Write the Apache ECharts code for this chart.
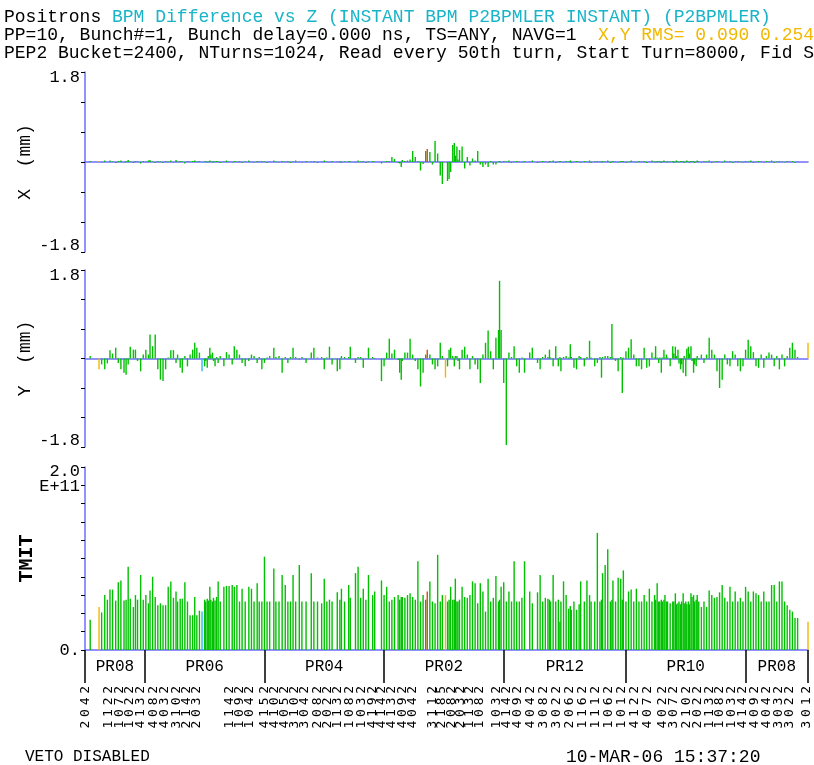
<!DOCTYPE html>
<html><head><meta charset="utf-8">
<script src="https://cdn.jsdelivr.net/npm/echarts@6/dist/echarts.min.js"></script>
<style>html,body{margin:0;padding:0;background:#fff}#c{width:814px;height:765px}</style>
</head><body><div id="c"></div>
<script>
// ---------------- data ----------------
const ringLength = 1390;
const regionNames = ['PR08','PR06','PR04','PR02','PR12','PR10','PR08'];
const regionBounds = [0,115,345,575,805,1040,1270,1390];

const tickNames = ['2042','2012','1122','1072','1022','4132',
  '4082','4032','3102','2142','2032','1142','1092','1042',
  '4152','4102','4052','3102','3042','2082','2022','1132','1082','1032','4192','4142',
  '4132','4092','4042','3112','2185','2082','2032','1132','1082','1032',
  '4142','4092','4042','3082','3022','2062','1162','1112','1062','1012',
  '4122','4072','4022','3072','2102','2022','1132','1082','1032',
  '4142','4092','4042','3032','3022','3012'];
const tickZ = [2,24,45,66,85,106,
  131,153,176,195,214,278,297,316,
  345,364,384,403,422,447,466,486,509,532,553,570,
  590,611,630,669,686,705,722,740,759,792,
  811,832,857,882,907,932,957,982,1007,1032,
  1057,1082,1111,1132,1156,1177,1200,1221,1244,
  1265,1288,1310,1333,1354,1388];

const bpmZ = [10,27,32,38,43,48,53,59,64,69,75,79,83,87,93,97,101,107,112,117,122,125,130,135,140,145,150,155,160,165,170,175,178,183,187,192,197,202,207,211,215,220,
225,230,232,235,237,240,242,245,247,250,253,256,260,267,272,277,283,287,292,297,302,308,315,320,325,331,335,340,
345,350,355,363,367,373,379,385,390,395,400,405,412,417,425,435,440,447,455,460,465,470,475,485,490,493,499,507,510,520,525,530,535,540,545,553,557,
570,575,580,585,590,595,602,605,608,610,615,620,625,630,635,640,645,650,655,658,663,668,673,678,683,687,693,697,700,703,707,710,712,715,717,720,725,730,735,740,745,750,755,760,765,770,775,780,785,790,795,797,800,
805,810,815,820,825,830,835,840,845,855,860,870,875,880,885,890,893,895,900,905,910,913,915,920,925,930,933,935,940,945,950,953,960,965,970,973,980,985,990,993,995,1000,1005,1010,1013,1015,1020,1025,1030,1033,1035,
1040,1045,1050,1055,1060,1065,1070,1075,1080,1085,1090,1095,1097,1100,1103,1105,1108,1110,1113,1115,1118,1120,1125,
1130,1132,1135,1137,1140,1142,1145,1147,1150,1152,1155,1157,1160,1162,1165,1167,1170,1172,1175,1177,1180,
1185,1190,1195,1200,1205,1210,1215,1220,1225,1230,1235,1240,1245,1250,1255,1260,1265,
1270,1275,1280,1285,1290,1295,1300,1305,1310,1315,1320,1325,1330,1335,1340,1345,1350,1355,1360,1365,1370,1390];

const xDiff = [0.02,0.02,-0.01,0.03,0.00,0.03,0.01,-0.02,0.02,0.03,-0.01,0.02,0.04,0.01,-0.02,0.02,0.01,-0.03,0.02,0.01,0.03,0.04,0.01,-0.02,0.02,0.01,-0.02,0.02,0.01,0.03,-0.01,0.04,0.01,0.02,0.01,-0.03,0.02,0.01,0.02,0.03,0.01,0.02,
-0.02,0.01,0.02,-0.01,0.01,0.03,0.01,-0.01,0.02,0.01,0.02,0.01,-0.02,0.01,0.03,0.01,-0.01,0.02,0.01,0.02,-0.02,0.01,0.03,0.01,-0.01,0.02,0.01,0.02,
0.01,-0.02,0.01,0.03,0.01,-0.01,0.02,0.01,0.02,-0.02,0.01,0.03,0.01,-0.01,0.02,0.01,0.02,-0.02,0.01,0.03,0.01,-0.01,0.02,0.01,0.02,-0.02,0.01,0.02,0.01,-0.01,0.03,0.01,0.02,-0.02,0.01,0.02,0.01,
-0.03,0.01,0.02,0.02,0.10,0.06,-0.02,-0.03,-0.10,0.04,0.02,0.03,0.05,0.22,0.10,0.02,-0.17,-0.04,0.22,0.26,0.20,-0.05,0.42,0.17,-0.27,-0.44,0.02,-0.38,-0.34,-0.20,0.34,0.38,0.13,0.31,0.05,0.24,0.31,-0.13,0.10,-0.07,0.07,0.03,0.22,-0.05,-0.10,-0.05,-0.10,0.02,-0.05,-0.05,0.01,0.02,-0.01,
0.02,0.01,0.03,-0.02,0.01,0.02,0.01,-0.01,0.02,0.01,0.03,-0.02,0.01,0.02,0.01,-0.01,0.02,0.01,0.03,-0.02,0.01,0.02,0.01,-0.01,0.02,0.01,0.03,-0.02,0.01,0.02,0.01,-0.01,0.02,0.01,0.03,-0.02,0.01,0.02,0.01,-0.01,0.02,0.01,0.03,-0.02,0.01,0.02,0.01,-0.01,0.02,0.01,0.02,
-0.02,0.01,0.03,0.01,-0.01,0.02,0.01,0.02,-0.02,0.01,0.03,0.01,-0.01,0.02,0.01,0.02,-0.02,0.01,0.03,0.01,-0.01,0.02,0.01,
0.02,-0.02,0.01,0.03,0.01,-0.01,0.02,0.01,0.02,-0.02,0.01,0.03,0.01,-0.01,0.02,0.01,0.02,-0.02,0.01,0.03,0.01,
-0.01,0.02,0.01,0.03,-0.02,0.01,0.02,0.01,-0.01,0.03,0.01,0.02,-0.02,0.01,0.02,0.01,-0.01,
0.02,0.01,0.03,-0.02,0.01,0.02,0.01,-0.01,0.02,0.01,0.03,-0.02,0.01,0.02,0.01,-0.01,0.02,0.01,0.02,-0.02,0.01,0.01];

const yDiff = [0.05,-0.22,-0.12,-0.22,-0.10,0.17,0.10,0.22,-0.09,-0.22,-0.29,-0.33,-0.12,0.24,0.18,0.18,-0.05,-0.26,0.08,0.18,0.08,0.49,0.25,0.49,-0.22,-0.43,-0.46,-0.22,0.02,0.17,0.17,-0.09,0.08,-0.19,-0.29,0.05,-0.16,0.08,0.18,0.32,0.22,0.12,
-0.26,-0.16,-0.05,-0.19,0.05,0.22,0.08,0.12,-0.05,-0.16,0.03,-0.09,0.05,-0.16,0.13,0.08,-0.12,0.25,0.18,0.08,-0.09,-0.16,-0.05,0.08,0.05,-0.09,0.03,-0.22,
-0.09,0.02,0.05,0.22,0.03,0.05,-0.29,0.03,-0.09,0.03,0.22,0.03,-0.02,0.03,-0.09,0.12,0.22,0.02,0.03,-0.22,0.02,0.24,-0.12,-0.26,-0.22,0.05,0.03,0.03,0.24,-0.09,0.03,0.03,-0.19,0.01,0.22,0.03,0.01,
-0.46,-0.16,0.12,0.40,0.10,0.18,-0.03,-0.29,-0.43,-0.05,0.12,0.12,0.40,0.08,-0.05,-0.22,-0.57,-0.29,0.08,0.18,0.08,-0.12,-0.22,-0.16,0.32,0.05,-0.39,-0.16,0.18,0.22,0.05,-0.16,0.05,0.05,-0.05,-0.22,0.18,0.24,0.08,-0.22,0.05,-0.12,-0.22,-0.50,0.08,0.32,0.57,0.15,-0.22,0.42,0.58,1.58,0.58,
-0.50,-1.76,0.12,0.03,0.25,-0.16,-0.29,0.02,-0.29,0.12,0.22,-0.09,-0.22,0.03,0.08,0.03,0.18,0.02,-0.16,0.25,-0.16,0.03,-0.26,0.03,0.05,0.02,0.29,0.03,-0.19,-0.22,0.05,0.03,-0.16,0.03,0.36,0.02,-0.16,-0.09,0.03,-0.39,0.03,0.05,0.05,0.03,0.70,0.02,-0.05,-0.26,0.03,-0.70,0.02,
0.15,0.22,0.39,0.08,-0.16,-0.16,-0.22,0.22,-0.19,-0.16,0.12,0.02,0.25,0.02,-0.09,0.02,-0.29,0.02,0.18,0.02,0.08,0.02,-0.16,
0.25,0.10,0.24,0.05,0.18,-0.10,-0.22,-0.12,-0.29,0.05,-0.36,0.20,0.24,0.10,0.25,-0.05,-0.29,-0.12,-0.16,0.05,-0.02,
0.08,-0.09,0.08,0.42,0.18,0.08,-0.26,-0.60,-0.43,0.08,-0.12,-0.16,0.15,0.08,-0.16,-0.26,-0.16,
0.18,0.38,0.25,0.13,-0.16,-0.19,0.08,-0.19,0.05,0.12,0.08,-0.16,0.05,-0.22,0.08,-0.16,0.05,0.22,0.32,0.18,0.03,0.32];

const tmit = [0.33,0.47,0.41,0.60,0.55,0.66,0.66,0.54,0.74,0.76,0.54,0.55,0.91,0.56,0.47,0.60,0.55,0.82,0.55,0.60,0.51,0.65,0.80,0.58,0.49,0.51,0.49,0.49,0.69,0.75,0.57,0.64,0.53,0.56,0.56,0.74,0.53,0.38,0.38,0.58,0.38,0.43,
0.42,0.55,0.53,0.56,0.54,0.69,0.55,0.53,0.57,0.54,0.58,0.75,0.53,0.69,0.70,0.70,0.71,0.69,0.71,0.53,0.67,0.53,0.69,0.67,0.53,0.73,0.53,0.53,
1.02,0.53,0.53,0.89,0.53,0.53,0.82,0.71,0.53,0.53,0.82,0.53,0.93,0.53,0.53,0.84,0.53,0.53,0.51,0.78,0.53,0.55,0.53,0.63,0.55,0.67,0.53,0.71,0.57,0.84,0.91,0.57,0.67,0.55,0.82,0.60,0.64,
0.76,0.60,0.69,0.53,0.55,0.58,0.60,0.55,0.58,0.58,0.57,0.60,0.62,0.58,0.55,0.97,0.53,0.60,0.55,0.64,0.75,0.53,0.51,1.04,0.53,0.60,0.60,0.53,0.55,0.69,0.55,0.55,0.78,0.53,0.53,0.55,0.69,0.58,0.57,0.60,0.75,0.73,0.51,0.73,0.64,0.42,0.78,0.53,0.57,0.81,0.53,0.55,0.69,
0.74,0.53,0.64,0.53,0.97,0.53,0.53,0.57,0.97,0.64,0.51,0.63,0.82,0.53,0.57,0.56,0.55,0.53,0.82,0.53,0.55,0.31,0.53,0.75,0.60,0.45,0.48,0.44,0.53,0.44,0.50,0.75,0.53,0.76,0.60,0.53,0.53,1.28,0.53,0.55,0.84,0.93,1.10,0.53,0.55,0.76,0.53,0.79,0.78,0.55,0.87,
0.53,0.64,0.66,0.53,0.67,0.53,0.53,0.60,0.53,0.67,0.53,0.60,0.55,0.73,0.53,0.53,0.55,0.53,0.55,0.60,0.53,0.53,0.51,
0.53,0.53,0.62,0.50,0.51,0.53,0.50,0.53,0.62,0.51,0.53,0.50,0.53,0.50,0.62,0.58,0.60,0.53,0.55,0.60,0.53,
0.47,0.53,0.47,0.65,0.60,0.57,0.58,0.63,0.71,0.57,0.53,0.69,0.53,0.64,0.53,0.57,0.53,
0.69,0.64,0.53,0.64,0.62,0.60,0.53,0.64,0.53,0.53,0.71,0.71,0.53,0.75,0.75,0.53,0.49,0.44,0.42,0.35,0.35,0.31];

// flagged BPMs (by Z) and their status
const flaggedZ = [27, 225, 658, 693, 1390];
const flaggedKind = ['warn', 'info', 'bad', 'warn', 'warn'];

// ---------------- styling ----------------
const GREEN = '#00c000';
const KIND_COLOR = {warn: '#f2b800', info: '#30b8f0', bad: '#e04818'};
const AXIS_BLUE = '#6e6eff';
const MONO = "'Liberation Mono', 'DejaVu Sans Mono', monospace";
const MONO2 = "'DejaVu Sans Mono', 'Liberation Mono', monospace";

function barData(vals) {
  return bpmZ.map((z, i) => {
    const k = flaggedZ.indexOf(z);
    return {value: [z, vals[i]], itemStyle: {color: k >= 0 ? KIND_COLOR[flaggedKind[k]] : GREEN}};
  });
}
const regionCenters = regionNames.map((n, i) => (regionBounds[i] + regionBounds[i + 1]) / 2);

const chart = echarts.init(document.getElementById('c'), null, {renderer: 'canvas'});

const lbl = {fontFamily: MONO, fontSize: 17, color: '#000', lineHeight: 18};
function mmYAxis(grid, name) {
  return {
    gridIndex: grid, type: 'value', min: -1.8, max: 1.8, interval: 0.6,
    axisLine: {show: true, lineStyle: {color: AXIS_BLUE, width: 1.5}},
    axisTick: {show: true, length: 4, lineStyle: {color: '#000'}},
    splitLine: {show: false},
    axisLabel: {
      margin: 5, color: '#000', fontFamily: MONO, fontSize: 17,
      rich: {
        a: lbl,
        s: {fontFamily: MONO, fontSize: 10, lineHeight: 10, color: '#000'},
        s2: {fontFamily: MONO, fontSize: 12, lineHeight: 13, color: '#000'}
      },
      formatter: v => (Math.abs(v - 1.8) < 1e-6 ? '{s| }\n{a|1.8}' : (Math.abs(v + 1.8) < 1e-6 ? '{a|-1.8}\n{s2| }' : ''))
    },
    name: name, nameLocation: 'middle', nameRotate: 90, nameGap: 51, nameMoveOverlap: false,
    nameTextStyle: {color: '#000', fontFamily: MONO, fontSize: 18}
  };
}
function zAxis(grid) {
  return {
    gridIndex: grid, type: 'value', min: 0, max: ringLength,
    axisLine: {show: true, onZero: true, lineStyle: {color: AXIS_BLUE, width: 1.5}},
    axisTick: {show: false}, axisLabel: {show: false}, splitLine: {show: false}
  };
}
const plain = {fontFamily: MONO, fontSize: 18, fontWeight: 'normal', color: '#000'};
const digit = {fontFamily: MONO2, fontSize: 13, color: '#000', width: 11.6, align: 'center'};

const option = {
  animation: false,
  backgroundColor: '#fff',
  title: [
    {left: 4, top: 8, padding: 0, text: '{k|Positrons }{c|BPM Difference vs Z (INSTANT BPM P2BPMLER INSTANT) (P2BPMLER)}',
      textStyle: {fontWeight: 'normal', rich: {k: Object.assign({}, plain), c: Object.assign({}, plain, {color: '#1ab4c8'})}}},
    {left: 4, top: 26, padding: 0, text: '{k|PP=10, Bunch#=1, Bunch delay=0.000 ns, TS=ANY, NAVG=1  }{o|X,Y RMS= 0.090 0.254}',
      textStyle: {fontWeight: 'normal', rich: {k: Object.assign({}, plain), o: Object.assign({}, plain, {color: '#f2b800'})}}},
    {left: 4, top: 44, padding: 0, text: 'PEP2 Bucket=2400, NTurns=1024, Read every 50th turn, Start Turn=8000, Fid S',
      textStyle: plain},
    {left: 25, top: 749, padding: 0, text: 'VETO DISABLED',
      textStyle: Object.assign({}, plain, {fontSize: 16})},
    {left: 566, top: 748, padding: 0, text: '10-MAR-06 15:37:20',
      textStyle: plain}
  ],
  grid: [
    {left: 85, right: 6, top: 72, height: 180},
    {left: 85, right: 6, top: 270, height: 177},
    {left: 85, right: 6, top: 467, height: 183}
  ],
  xAxis: [
    zAxis(0), zAxis(1),
    {
      gridIndex: 2, type: 'value', min: 0, max: ringLength, position: 'bottom',
      axisLine: {show: true, lineStyle: {color: AXIS_BLUE, width: 1.5}},
      axisTick: {show: true, customValues: regionBounds, length: 33, lineStyle: {color: '#000', width: 1.5}},
      axisLabel: {
        show: true, customValues: tickZ, rotate: 90, margin: 34, color: '#000',
        fontFamily: MONO2, fontSize: 13, showMinLabel: true, showMaxLabel: true, hideOverlap: false,
        rich: {d: digit},
        formatter: v => {
          const i = tickZ.findIndex(t => Math.abs(t - v) < 0.01);
          return i >= 0 ? tickNames[i].split('').map(c => '{d|' + c + '}').join('') : '';
        }
      },
      splitLine: {show: false}
    },
    {
      gridIndex: 2, type: 'value', min: 0, max: ringLength, position: 'bottom', offset: 0,
      axisLine: {show: false}, axisTick: {show: false}, splitLine: {show: false},
      axisLabel: {
        show: true, customValues: regionCenters, margin: 9, color: '#000',
        fontFamily: MONO, fontSize: 16,
        formatter: v => { const i = regionCenters.findIndex(t => Math.abs(t - v) < 0.01); return i >= 0 ? regionNames[i] : ''; }
      }
    }
  ],
  yAxis: [
    mmYAxis(0, 'X  (mm)'),
    mmYAxis(1, 'Y  (mm)'),
    {
      gridIndex: 2, type: 'value', min: 0, max: 2, interval: 0.2,
      axisLine: {show: true, lineStyle: {color: AXIS_BLUE, width: 1.5}},
      axisTick: {show: true, length: 4, lineStyle: {color: '#000'}},
      splitLine: {show: false},
      axisLabel: {
        margin: 5, color: '#000', fontFamily: MONO, fontSize: 17,
        rich: {
          s: {fontFamily: MONO, fontSize: 17, lineHeight: 23, color: '#000'},
          a: {fontFamily: MONO, fontSize: 17, lineHeight: 15, color: '#000'}
        },
        formatter: v => (v === 0 ? '0.' : (Math.abs(v - 2) < 1e-6 ? '{s| }\n{a|2.0}\n{a|E+11}' : ''))
      },
      name: 'TMIT', nameLocation: 'middle', nameRotate: 90, nameGap: 48, nameMoveOverlap: false,
      nameTextStyle: {color: '#000', fontFamily: MONO, fontSize: 20, fontWeight: 'bold'}
    }
  ],
  series: [
    {type: 'bar', xAxisIndex: 0, yAxisIndex: 0, barWidth: 1.4, data: barData(xDiff)},
    {type: 'bar', xAxisIndex: 1, yAxisIndex: 1, barWidth: 1.4, data: barData(yDiff)},
    {type: 'bar', xAxisIndex: 2, yAxisIndex: 2, barWidth: 1.4, data: barData(tmit)}
  ]
};
chart.setOption(option);
</script>
</body></html>
